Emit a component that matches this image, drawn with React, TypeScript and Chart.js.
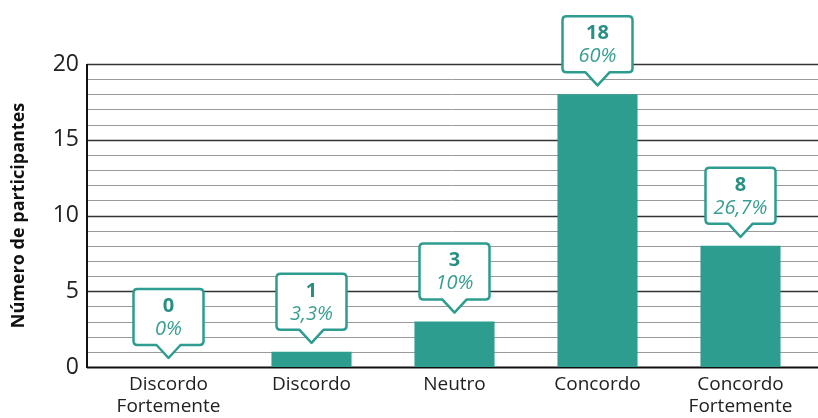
import React, { useEffect, useRef } from "react";
import { Chart, registerables } from "chart.js";

Chart.register(...registerables);

const categories: string[][] = [
  ["Discordo", "Fortemente"],
  ["Discordo"],
  ["Neutro"],
  ["Concordo"],
  ["Concordo", "Fortemente"],
];
const counts = [0, 1, 3, 18, 8];
const percents = ["0%", "3,3%", "10%", "60%", "26,7%"];
const yTicks = [0, 5, 10, 15, 20];

const TEAL = "#2e9c8f";
const FONT = "'Open Sans', 'Noto Sans', sans-serif";

const gridPlugin = {
  id: "customGrid",
  beforeDatasetsDraw(chart: any) {
    const { ctx, scales, width } = chart;
    const y = scales.y;
    const x0 = 87;
    ctx.save();
    for (let i = 0; i <= 20; i++) {
      const py = Math.round(y.getPixelForValue(i)) + 0.5;
      const major = i % 5 === 0;
      ctx.strokeStyle = i === 0 ? "#111" : major ? "#333" : "#9a9a9a";
      ctx.lineWidth = i === 0 ? 2 : major ? 1.3 : 1;
      ctx.beginPath();
      ctx.moveTo(x0, py);
      ctx.lineTo(width, py);
      ctx.stroke();
    }
    ctx.strokeStyle = "#111";
    ctx.lineWidth = 2;
    ctx.beginPath();
    ctx.moveTo(x0, y.getPixelForValue(20));
    ctx.lineTo(x0, y.getPixelForValue(0) + 1);
    ctx.stroke();
    ctx.restore();
  },
};

const calloutPlugin = {
  id: "callouts",
  afterDatasetsDraw(chart: any) {
    const { ctx } = chart;
    const meta = chart.getDatasetMeta(0);
    ctx.save();
    meta.data.forEach((bar: any, i: number) => {
      const cx = bar.x;
      const tip = bar.y - 9;
      const bottom = tip - 13;
      const top = bottom - 56;
      const w = 70;
      const left = cx - w / 2;
      const right = cx + w / 2;
      const r = 4;
      const tw = 12;
      ctx.beginPath();
      ctx.moveTo(left + r, top);
      ctx.lineTo(right - r, top);
      ctx.quadraticCurveTo(right, top, right, top + r);
      ctx.lineTo(right, bottom - r);
      ctx.quadraticCurveTo(right, bottom, right - r, bottom);
      ctx.lineTo(cx + tw, bottom);
      ctx.lineTo(cx, tip);
      ctx.lineTo(cx - tw, bottom);
      ctx.lineTo(left + r, bottom);
      ctx.quadraticCurveTo(left, bottom, left, bottom - r);
      ctx.lineTo(left, top + r);
      ctx.quadraticCurveTo(left, top, left + r, top);
      ctx.closePath();
      ctx.fillStyle = "#ffffff";
      ctx.fill();
      ctx.strokeStyle = TEAL;
      ctx.lineWidth = 2.5;
      ctx.lineJoin = "round";
      ctx.stroke();
      ctx.fillStyle = "#2a8f83";
      ctx.textAlign = "center";
      ctx.textBaseline = "middle";
      ctx.font = `bold 20px ${FONT}`;
      ctx.fillText(String(counts[i]), cx, top + 17);
      ctx.fillStyle = "#3a9d91";
      ctx.font = `italic 20px ${FONT}`;
      ctx.fillText(percents[i], cx, top + 40);
    });
    ctx.restore();
  },
};

export default function App() {
  const ref = useRef<HTMLCanvasElement | null>(null);
  useEffect(() => {
    if (!ref.current) return;
    const chart = new Chart(ref.current, {
      type: "bar",
      data: {
        labels: categories,
        datasets: [
          {
            data: counts,
            backgroundColor: "#2c9d8f",
            borderWidth: 0,
            categoryPercentage: 1,
            barPercentage: 0.56,
          },
        ],
      },
      options: {
        animation: false,
        responsive: false,
        events: [],
        layout: { padding: { top: 64, right: 6, left: 0, bottom: 0 } },
        plugins: { legend: { display: false }, tooltip: { enabled: false } },
        scales: {
          x: {
            grid: { display: false, drawTicks: false },
            border: { display: false },
            ticks: {
              color: "#222",
              font: { family: FONT, size: 19, lineHeight: 1.15 },
              padding: 7,
              maxRotation: 0,
              autoSkip: false,
            },
            afterFit: (s: any) => {
              s.height = 51;
            },
          },
          y: {
            min: 0,
            max: 20,
            grid: { display: false, drawTicks: false },
            border: { display: false },
            afterBuildTicks: (s: any) => {
              s.ticks = yTicks.map((v) => ({ value: v }));
            },
            ticks: {
              color: "#222",
              font: { family: FONT, size: 23 },
              padding: 18,
            },
            title: {
              display: true,
              text: "Número de participantes",
              color: "#111",
              font: { family: FONT, size: 18, weight: "bold" },
              padding: { top: 8, bottom: 0 },
            },
            afterFit: (s: any) => {
              s.width = 97;
            },
          },
        },
      },
      plugins: [gridPlugin, calloutPlugin],
    });
    return () => chart.destroy();
  }, []);
  return (
    <div style={{ position: "absolute", left: 0, top: 0, width: 818, height: 418, background: "#fff" }}>
      <canvas ref={ref} width={818} height={418} style={{ display: "block" }} />
    </div>
  );
}
